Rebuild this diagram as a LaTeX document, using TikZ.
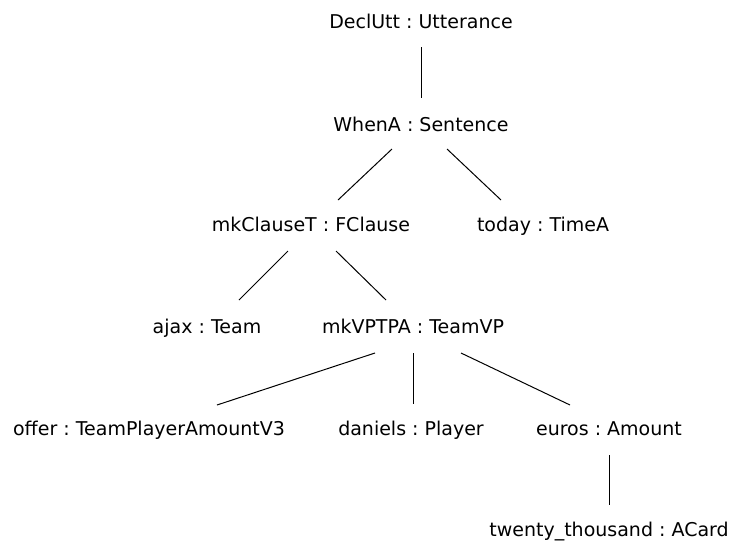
\documentclass[tikz,border=0pt]{standalone}
\usepackage{fontspec}
\setmainfont{DejaVu Sans}
\frenchspacing
\begin{document}
\begin{tikzpicture}[x=1pt,y=-1pt,
  lbl/.style={inner sep=0pt,anchor=base,font=\fontsize{19}{23}\selectfont},
  edge/.style={draw=black,line width=1pt}]
\useasboundingbox (0,0) rectangle (737,542);
\node[lbl] (utt)   at (421,28)  {DeclUtt : Utterance};
\node[lbl] (sent)  at (421,131) {WhenA : Sentence};
\node[lbl] (cl)    at (311,231) {mkClauseT : FClause};
\node[lbl] (today) at (543,231) {today : TimeA};
\node[lbl] (ajax)  at (207,333) {ajax : Team};
\node[lbl] (vp)    at (413,333) {mkVPTPA : TeamVP};
\node[lbl] (offer) at (149,435) {offer : TeamPlayerAmountV3};
\node[lbl] (dan)   at (411,435) {daniels : Player};
\node[lbl] (eur)   at (609,435) {euros : Amount};
\node[lbl] (tt)    at (609,536) {twenty\_thousand : ACard};
% connectors between parent and child terms
\coordinate (a1) at (421,47);  \coordinate (a2) at (421,98);
\coordinate (b1) at (392,149); \coordinate (b2) at (338,200);
\coordinate (c1) at (447,149); \coordinate (c2) at (501,200);
\coordinate (d1) at (288,251); \coordinate (d2) at (239,300);
\coordinate (e1) at (336,251); \coordinate (e2) at (386,300);
\coordinate (f1) at (375,353); \coordinate (f2) at (217,405);
\coordinate (g1) at (413,353); \coordinate (g2) at (413,404);
\coordinate (h1) at (461,353); \coordinate (h2) at (570,405);
\coordinate (i1) at (609,455); \coordinate (i2) at (609,505);
\draw[edge] (a1) -- (a2);
\draw[edge] (b1) -- (b2);
\draw[edge] (c1) -- (c2);
\draw[edge] (d1) -- (d2);
\draw[edge] (e1) -- (e2);
\draw[edge] (f1) -- (f2);
\draw[edge] (g1) -- (g2);
\draw[edge] (h1) -- (h2);
\draw[edge] (i1) -- (i2);
\end{tikzpicture}
\end{document}
